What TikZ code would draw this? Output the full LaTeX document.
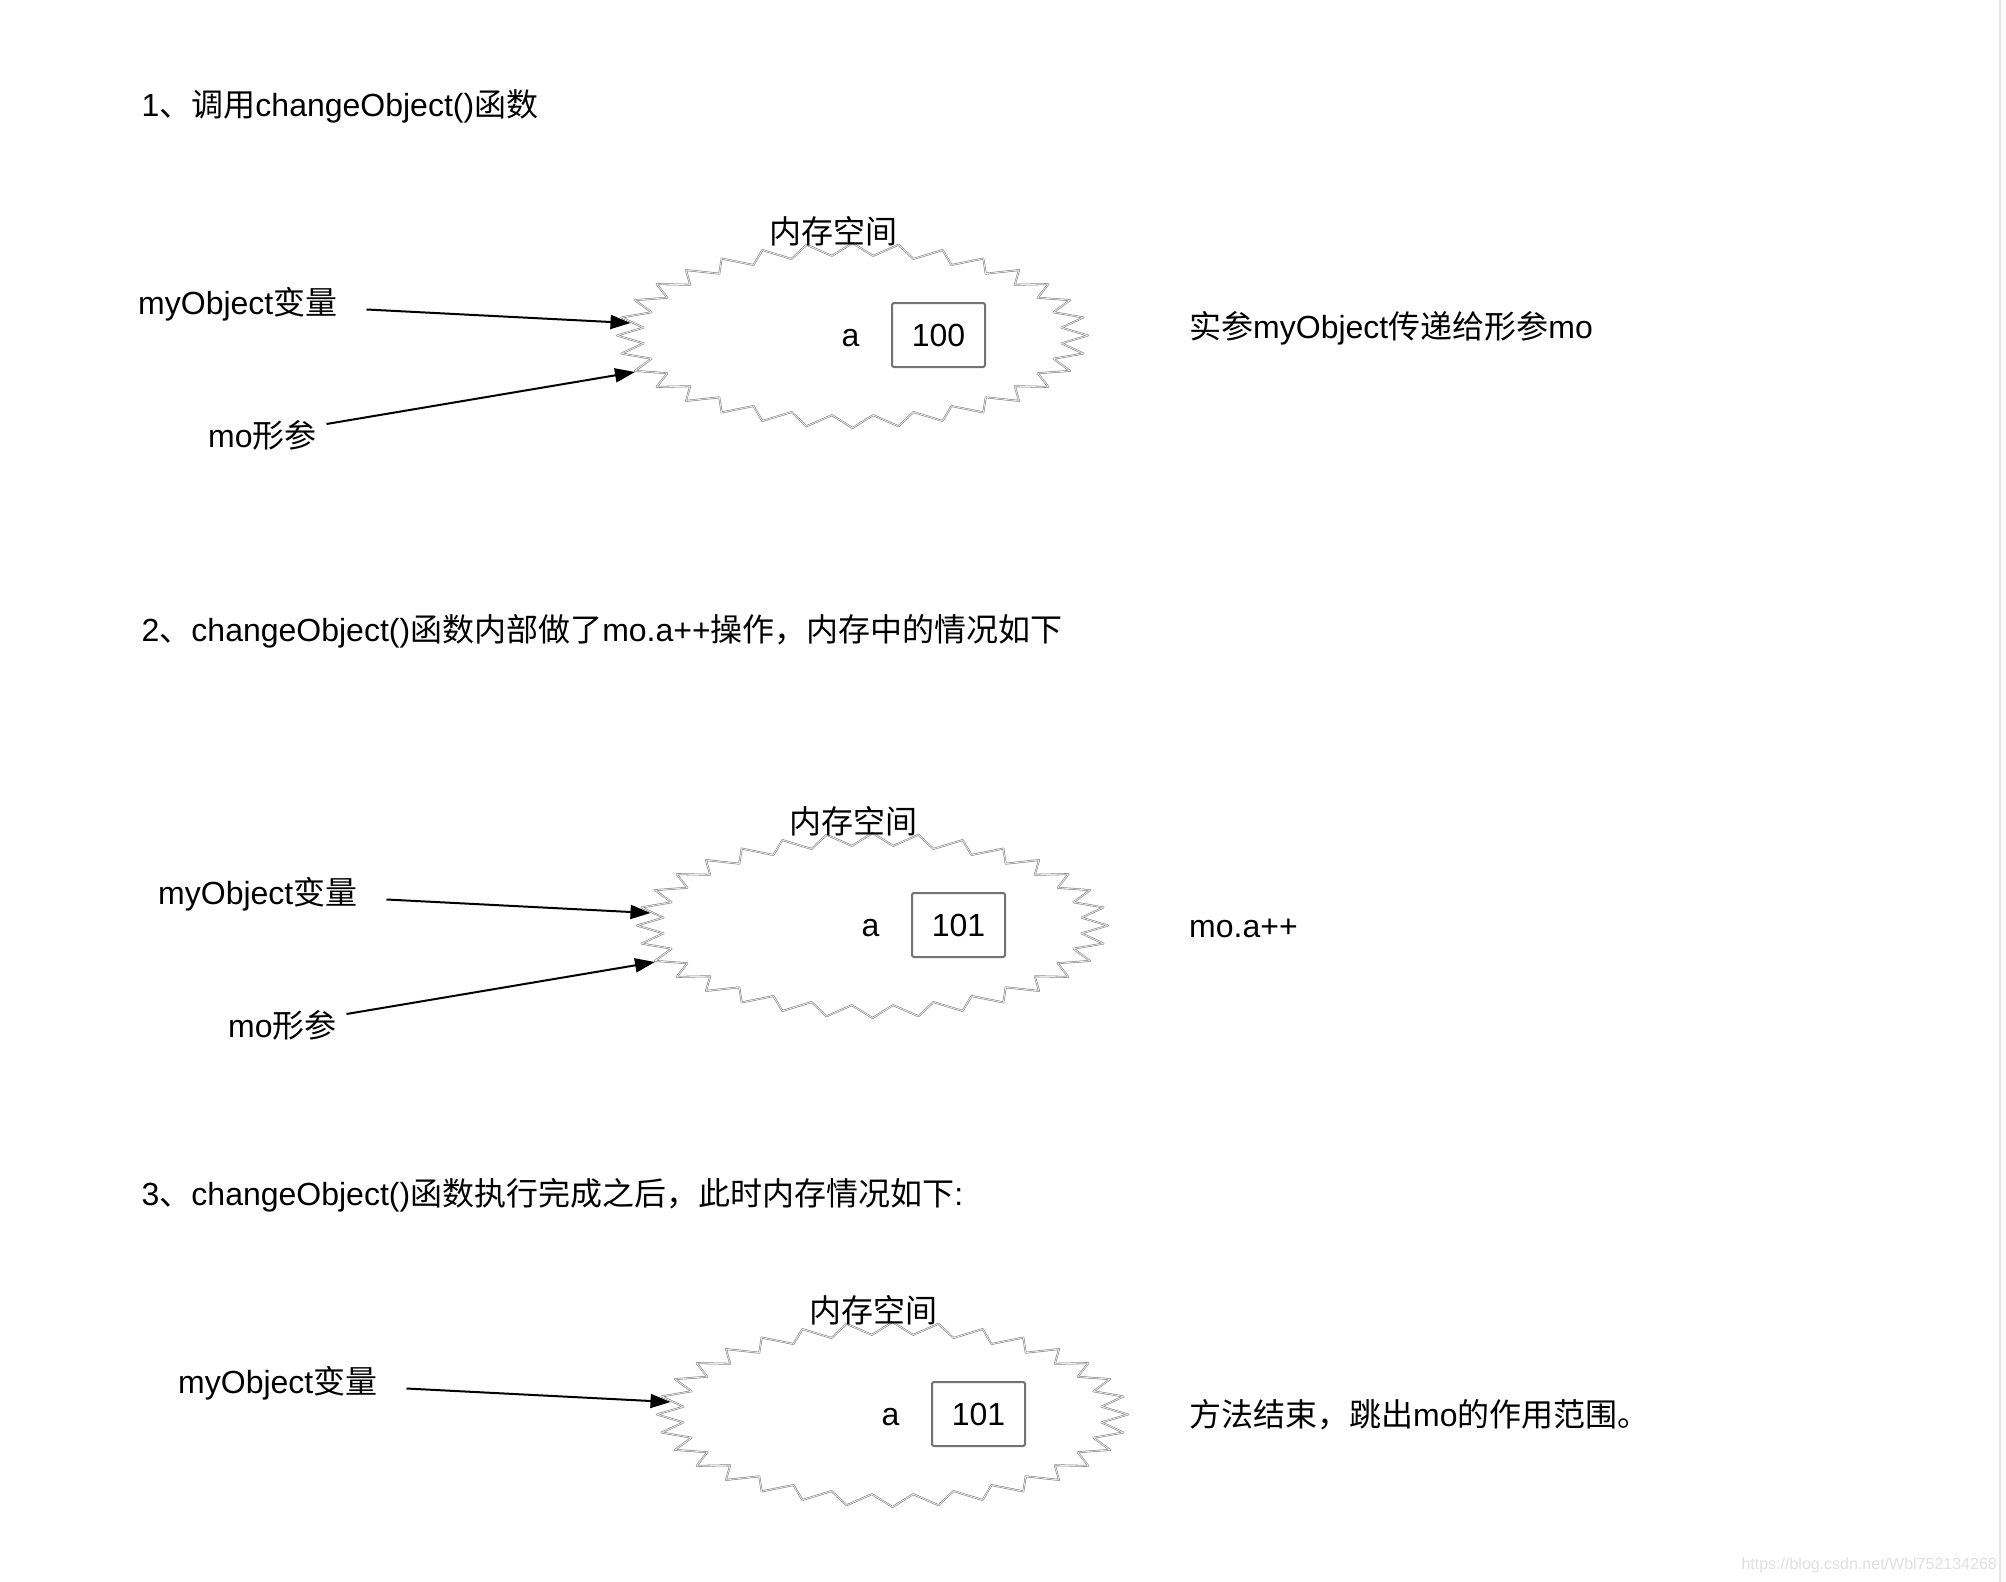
\documentclass[tikz,border=0pt]{standalone}
\usepackage{fontspec}
\setmainfont{Liberation Sans}
\newfontfamily\cjk{Noto Sans CJK SC}
\usetikzlibrary{arrows.meta}
\newcommand\zh[1]{{\cjk #1}}
\tikzset{
  txt/.style={inner sep=0pt, font=\fontsize{32}{38}\selectfont, anchor=base west},
  ctxt/.style={inner sep=0pt, font=\fontsize{32}{38}\selectfont, anchor=base},
  valbox/.style={draw=black!55, line width=2pt, rounded corners=2pt, minimum width=93pt, minimum height=64pt, inner sep=0pt, font=\fontsize{32}{38}\selectfont},
  ptr/.style={line width=2pt, -{Triangle[length=20pt,width=14pt]}},
  burst/.style={draw=black!50, line width=0.55pt, double=black!8, double distance=0.8pt, line join=round},
}
\begin{document}
\begin{tikzpicture}[x=1pt,y=-1pt]
\useasboundingbox (0,0) rectangle (2006,1582);
\fill[white] (0,0) rectangle (2006,1582);
\fill[black!2] (2001,0) rectangle (2006,1582);
\draw[black!10, line width=2pt] (2000,0) -- (2000,1582);

% titles
\node[txt] (t1) at (141.5,116.5) {1\zh{、调用}changeObject()\zh{函数}};
\node[txt] (t2) at (141.5,641.5) {2\zh{、}changeObject()\zh{函数内部做了}mo.a++\zh{操作，内存中的情况如下}};
\node[txt] (t3) at (141.5,1205.5) {3\zh{、}changeObject()\zh{函数执行完成之后，此时内存情况如下}:};

% right notes
\node[txt] (n1) at (1189,338.5) {\zh{实参}myObject\zh{传递给形参}mo};
\node[txt] (n2) at (1189,937.5) {mo.a++};
\node[txt] (n3) at (1189,1426.5) {\zh{方法结束，跳出}mo\zh{的作用范围。}};

% section 1
\begin{scope}[shift={(852.5,335.5)}]
\draw[burst] plot[samples at={0,...,63}, variable=\k] ({((1-mod(\k,2))*235.5+mod(\k,2)*210)*cos(\k*5.625)}, {((1-mod(\k,2))*92.5+mod(\k,2)*80)*sin(\k*5.625)}) -- cycle;
\node[ctxt] (lab1) at (-19.5,-92) {\zh{内存空间}};
\node[ctxt] (a1) at (-2,10.5) {a};
\node[valbox] (v1) at (86,-0.5) {100};
\node[txt] (obj1) at (-714.5,-21.5) {myObject\zh{变量}};
\node[txt] (mo1) at (-644.5,111.5) {mo\zh{形参}};
\coordinate (s1a) at (-486,-26);
\coordinate (e1a) at (-222,-12.5);
\coordinate (s1b) at (-526,88.5);
\coordinate (e1b) at (-217.5,36.5);
\draw[ptr] (s1a) -- (e1a);
\draw[ptr] (s1b) -- (e1b);
\end{scope}

% section 2
\begin{scope}[shift={(872.5,925.5)}]
\draw[burst] plot[samples at={0,...,63}, variable=\k] ({((1-mod(\k,2))*235.5+mod(\k,2)*210)*cos(\k*5.625)}, {((1-mod(\k,2))*92.5+mod(\k,2)*80)*sin(\k*5.625)}) -- cycle;
\node[ctxt] (lab2) at (-19.5,-92) {\zh{内存空间}};
\node[ctxt] (a2) at (-2,10.5) {a};
\node[valbox] (v2) at (86,-0.5) {101};
\node[txt] (obj2) at (-714.5,-21.5) {myObject\zh{变量}};
\node[txt] (mo2) at (-644.5,111.5) {mo\zh{形参}};
\coordinate (s2a) at (-486,-26);
\coordinate (e2a) at (-222,-12.5);
\coordinate (s2b) at (-526,88.5);
\coordinate (e2b) at (-217.5,36.5);
\draw[ptr] (s2a) -- (e2a);
\draw[ptr] (s2b) -- (e2b);
\end{scope}

% section 3
\begin{scope}[shift={(892.5,1414.5)}]
\draw[burst] plot[samples at={0,...,63}, variable=\k] ({((1-mod(\k,2))*235.5+mod(\k,2)*210)*cos(\k*5.625)}, {((1-mod(\k,2))*92.5+mod(\k,2)*80)*sin(\k*5.625)}) -- cycle;
\node[ctxt] (lab3) at (-19.5,-92) {\zh{内存空间}};
\node[ctxt] (a3) at (-2,10.5) {a};
\node[valbox] (v3) at (86,-0.5) {101};
\node[txt] (obj3) at (-714.5,-21.5) {myObject\zh{变量}};
\coordinate (s3a) at (-486,-26);
\coordinate (e3a) at (-222,-12.5);
\draw[ptr] (s3a) -- (e3a);
\end{scope}

\node[anchor=base east, inner sep=0pt, font=\fontsize{16}{19}\selectfont, text=black!12] (wm) at (1997,1569) {https://blog.csdn.net/Wbl752134268};
\end{tikzpicture}
\end{document}
